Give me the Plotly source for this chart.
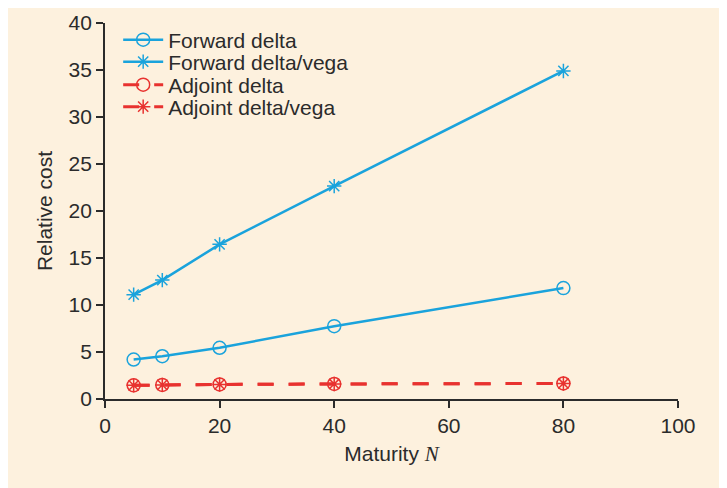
import plotly.graph_objects as go

maturity = [5, 10, 20, 40, 80]
forward_delta = [4.2, 4.55, 5.45, 7.75, 11.8]
forward_delta_vega = [11.1, 12.65, 16.45, 22.65, 34.9]
adjoint_delta = [1.45, 1.5, 1.55, 1.6, 1.65]
adjoint_delta_vega = [1.45, 1.5, 1.55, 1.6, 1.65]

x_ticks = [0, 20, 40, 60, 80, 100]
y_ticks = [0, 5, 10, 15, 20, 25, 30, 35, 40]

BLUE = "#1aa3dc"
RED = "#e8322f"
BG = "#fdf1de"
AX = "#2b2b2b"
FONT = "Liberation Sans, Arial, Helvetica, sans-serif"
FS = 21

# page body has an 8px margin: figure is sized so the plot lands where the reference's does
W, H = 719, 480
ML, MR, MT, MB = 97, 49, 15, 89
PH = H - MT - MB


def row_y(py):
    # absolute pixel row (page) -> paper coordinate
    return (H - MB + 8 - py) / PH


fig = go.Figure()
fig.add_trace(go.Scatter(x=maturity, y=forward_delta, name="Forward delta",
                         mode="lines+markers", legend="legend",
                         line=dict(color=BLUE, width=2.5),
                         marker=dict(symbol="circle-open", size=13, color=BLUE, line=dict(width=1.5))))
fig.add_trace(go.Scatter(x=maturity, y=forward_delta_vega, name="Forward delta/vega",
                         mode="lines+markers", legend="legend2",
                         line=dict(color=BLUE, width=2.5),
                         marker=dict(symbol="asterisk-open", size=12, color=BLUE, line=dict(width=1.5, color=BLUE))))
fig.add_trace(go.Scatter(x=maturity, y=adjoint_delta, name="Adjoint delta",
                         mode="lines+markers", legend="legend3",
                         line=dict(color=RED, width=3, dash="16px,15px"),
                         marker=dict(symbol="circle-open", size=13, color=RED, line=dict(width=1.5))))
fig.add_trace(go.Scatter(x=maturity, y=adjoint_delta_vega, name="Adjoint delta/vega",
                         mode="lines+markers", legend="legend4",
                         line=dict(color=RED, width=3, dash="16px,15px"),
                         marker=dict(symbol="asterisk-open", size=12, color=RED, line=dict(width=1.5, color=RED))))

legend_rows = [40, 62, 85, 107]
leg_common = dict(x=0.023, xanchor="left", yanchor="middle", bgcolor="rgba(0,0,0,0)",
                  font=dict(size=FS, color=AX, family=FONT), itemwidth=40)

fig.update_layout(
    width=W, height=H,
    margin=dict(l=ML, r=MR, t=MT, b=MB, autoexpand=False),
    paper_bgcolor=BG, plot_bgcolor=BG,
    font=dict(family=FONT, size=FS, color=AX),
    showlegend=True,
    legend=dict(y=row_y(legend_rows[0]), **leg_common),
    legend2=dict(y=row_y(legend_rows[1]), **leg_common),
    legend3=dict(y=row_y(legend_rows[2]), **leg_common),
    legend4=dict(y=row_y(legend_rows[3]), **leg_common),
    xaxis=dict(range=[0, 100], tickvals=x_ticks, ticktext=[str(v) for v in x_ticks],
               showgrid=False, zeroline=False, showline=True, linecolor=AX, linewidth=1.8,
               ticks="outside", ticklen=7, tickwidth=1.5, tickcolor=AX,
               tickfont=dict(size=FS), automargin=False,
               title=dict(text="Maturity <i><span style='font-family:Liberation Serif, Times New Roman, serif'>N</span></i>",
                          font=dict(size=FS), standoff=10)),
    yaxis=dict(range=[0, 40], tickvals=y_ticks, ticktext=[str(v) for v in y_ticks],
               showgrid=False, zeroline=False, showline=True, linecolor=AX, linewidth=1.8,
               ticks="outside", ticklen=7, tickwidth=1.5, tickcolor=AX,
               tickfont=dict(size=FS), automargin=False,
               title=dict(text="Relative cost", font=dict(size=FS), standoff=10)),
)

fig.write_html("out.html")
